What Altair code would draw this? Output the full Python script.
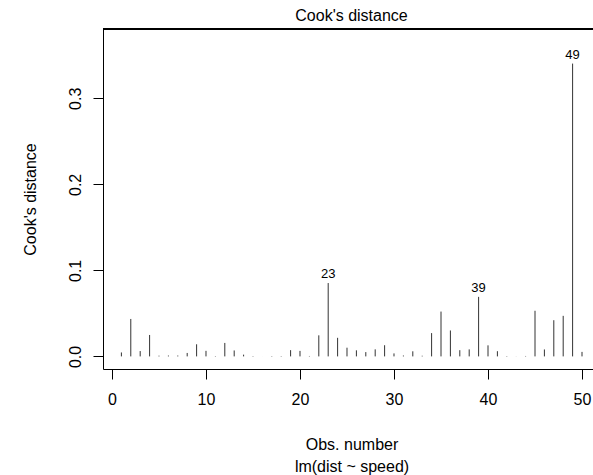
import altair as alt
import pandas as pd

obs = list(range(1, 51))
cooks = [0.004592, 0.043521, 0.006202, 0.024905, 0.000838, 0.001013, 0.001000, 0.004002,
         0.014082, 0.006476, 0.000459, 0.015662, 0.006916, 0.002038, 0.000454, 0.0000243,
         0.000454, 0.000454, 0.007267, 0.006397, 0.000504, 0.024486, 0.085282, 0.021611,
         0.010130, 0.007060, 0.004995, 0.008199, 0.013005, 0.003474, 0.001020, 0.005930,
         0.000758, 0.027087, 0.052116, 0.030148, 0.007245, 0.008154, 0.069211, 0.012842,
         0.006060, 0.000454, 0.000114, 0.000502, 0.053045, 0.008076, 0.042073, 0.047150,
         0.340388, 0.005245]
label_ids = [23, 39, 49]
x_ticks = [0, 10, 20, 30, 40, 50]
y_ticks = [0.0, 0.1, 0.2, 0.3]
main_title = "Cook's distance"

df = pd.DataFrame({"obs": obs, "cook": cooks})
df["label"] = [str(o) if o in label_ids else "" for o in obs]

W, H = 490, 340
FONT = "Liberation Sans"
xs = alt.Scale(domain=[-0.957, 51.17], nice=False, zero=False)
ys = alt.Scale(domain=[-0.01464, 0.3806], nice=False, zero=False)

base = alt.Chart(df)

bars = base.mark_rule(color="#333333", strokeWidth=1).encode(
    x=alt.X("obs:Q", scale=xs, axis=alt.Axis(
        values=x_ticks, format="d", grid=False, tickSize=10,
        labelPadding=12, labelBaseline="top", labelFontSize=16,
        title=["Obs. number", "lm(dist ~ speed)"], titleX=248.5, titleY=67,
        titleBaseline="top", titleAlign="center", titleLineHeight=22,
        titleFontSize=16, titleFontWeight="normal")),
    y=alt.Y("cook:Q", scale=ys, axis=alt.Axis(
        values=y_ticks, format=".1f", grid=False, tickSize=10,
        labelAngle=270, labelAlign="center", labelBaseline="bottom",
        labelPadding=10, labelFontSize=16,
        title="Cook's distance", titleAngle=270, titleX=-73, titleY=170,
        titleAlign="center", titleBaseline="middle",
        titleFontSize=16, titleFontWeight="normal")),
    y2=alt.datum(0),
)

labels = base.transform_filter(alt.datum.label != "").mark_text(
    fontSize=13, baseline="alphabetic", dy=-5, font=FONT, color="black"
).encode(x=alt.X("obs:Q", scale=xs), y=alt.Y("cook:Q", scale=ys), text="label:N")

top_border = alt.Chart(df).mark_rule(color="black", strokeWidth=1).encode(
    x=alt.value(0), x2=alt.value(W), y=alt.value(0))

title_text = alt.Chart(pd.DataFrame({"t": [main_title]})).mark_text(
    fontSize=16, font=FONT, color="black", baseline="alphabetic", align="center"
).encode(x=alt.value(248.5), y=alt.value(-8), text="t:N")

chart = alt.layer(bars, labels, top_border, title_text).properties(
    width=W, height=H,
    autosize="none",
    padding={"left": 103, "top": 29, "right": 0, "bottom": 106},
).configure_view(stroke=None).configure_axis(
    domainColor="black", tickColor="black", labelColor="black", titleColor="black",
    labelFont=FONT, titleFont=FONT, domainWidth=1, tickWidth=1,
)

chart.save("out.html", embed_options={"renderer": "svg", "actions": False})
